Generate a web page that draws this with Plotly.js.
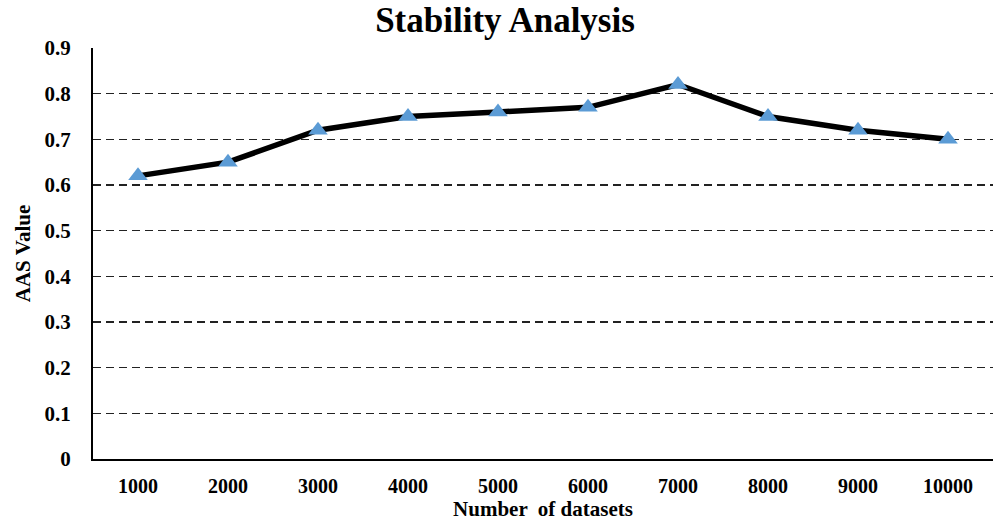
<!DOCTYPE html>
<html><head><meta charset="utf-8">
<script src="https://cdn.plot.ly/plotly-3.0.1.min.js"></script>
<style>html,body{margin:0;padding:0;background:#fff}#c{width:1000px;height:521px}</style>
</head><body><div id="c"></div>
<script>
const categories = ["1000","2000","3000","4000","5000","6000","7000","8000","9000","10000"];
const aasValues = [0.62, 0.65, 0.72, 0.75, 0.76, 0.77, 0.82, 0.75, 0.72, 0.70];
const yTicks = [0,0.1,0.2,0.3,0.4,0.5,0.6,0.7,0.8,0.9];
const yTickText = ["0","0.1","0.2","0.3","0.4","0.5","0.6","0.7","0.8","0.9"];

const font = {family: "Liberation Serif, Times New Roman, serif", color: "#000"};
Plotly.newPlot("c", [{
  x: categories, y: aasValues, type: "scatter", mode: "lines+markers",
  line: {color: "#000", width: 5.5},
  marker: {symbol: "triangle-up", size: 17, color: "#5B9BD5", line: {width: 0}}
}], {
  width: 1000, height: 521,
  margin: {l: 93, r: 7, t: 48, b: 62},
  paper_bgcolor: "#fff", plot_bgcolor: "#fff",
  showlegend: false,
  title: {text: "<b>Stability Analysis</b>", font: Object.assign({size: 35}, font), x: 0.505, xanchor: "center", y: 0.963, yanchor: "middle"},
  xaxis: {
    type: "category", range: [-0.5, 9.5],
    showgrid: false, zeroline: false,
    showline: true, linecolor: "#000", linewidth: 2,
    ticks: "outside", ticklen: 8, tickcolor: "rgba(0,0,0,0)",
    tickfont: Object.assign({size: 20}, font),
    tickprefix: "<b>", ticksuffix: "</b>",
    title: {text: "<b>Number  of datasets</b>", font: Object.assign({size: 21}, font), standoff: 3}
  },
  yaxis: {
    range: [0, 0.9], tickvals: yTicks, ticktext: yTickText.map(t => "<b>" + t + "</b>"),
    showgrid: true, gridcolor: "#222", griddash: "8px,5px", gridwidth: 1.5,
    zeroline: false, showline: true, linecolor: "#000", linewidth: 2,
    ticks: "outside", ticklen: 16, tickcolor: "rgba(0,0,0,0)",
    tickfont: Object.assign({size: 21}, font),
    title: {text: "<b>AAS Value</b>", font: Object.assign({size: 21}, font), standoff: 8}
  }
}, {displayModeBar: false, staticPlot: true});
</script></body></html>
